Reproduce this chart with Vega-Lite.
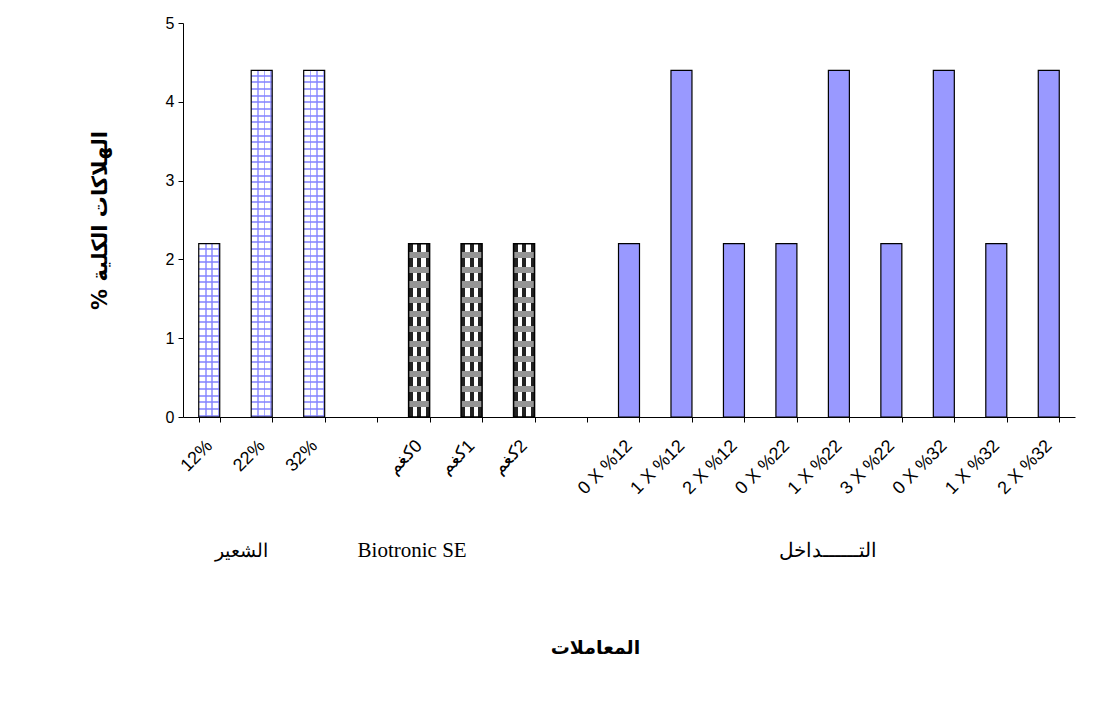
{
  "$schema": "https://vega.github.io/schema/vega-lite/v6.json",
  "width": 892,
  "height": 394,
  "autosize": {"type": "none"},
  "padding": {"left": 183, "top": 23, "right": 18, "bottom": 292},
  "background": "white",
  "config": {
    "view": {"stroke": null},
    "axis": {"labelFont": "Liberation Sans", "titleFont": "DejaVu Sans", "domainColor": "black", "tickColor": "black", "labelColor": "black", "titleColor": "black", "grid": false}
  },
  "datasets": {
    "bars": [
      {"cat": "12%", "v": 2.2, "grp": "barley"},
      {"cat": "22%", "v": 4.4, "grp": "barley"},
      {"cat": "32%", "v": 4.4, "grp": "barley"},
      {"cat": "\u200f0كغم", "v": 2.2, "grp": "bio"},
      {"cat": "\u200f1كغم", "v": 2.2, "grp": "bio"},
      {"cat": "\u200f2كغم", "v": 2.2, "grp": "bio"},
      {"cat": "0 X %12", "v": 2.2, "grp": "int"},
      {"cat": "1 X %12", "v": 4.4, "grp": "int"},
      {"cat": "2 X %12", "v": 2.2, "grp": "int"},
      {"cat": "0 X %22", "v": 2.2, "grp": "int"},
      {"cat": "1 X %22", "v": 4.4, "grp": "int"},
      {"cat": "3 X %22", "v": 2.2, "grp": "int"},
      {"cat": "0 X %32", "v": 4.4, "grp": "int"},
      {"cat": "1 X %32", "v": 2.2, "grp": "int"},
      {"cat": "2 X %32", "v": 4.4, "grp": "int"}
    ],
    "groups": [
      {"cat": "22%", "label": "الشعير", "grp": "barley"},
      {"cat": "\u200f0كغم", "label": "Biotronic SE", "grp": "bio"},
      {"cat": "1 X %22", "label": "التــــــداخل", "grp": "int"}
    ]
  },
  "layer": [
    {
      "data": {"name": "bars"},
      "transform": [{"filter": "datum.grp == 'int'"}],
      "mark": {"type": "bar", "fill": "#9999ff", "stroke": "black", "strokeWidth": 1.2},
      "encoding": {
        "x": {
          "field": "cat", "type": "nominal", "sort": null,
          "scale": {"domain": ["12%", "22%", "32%", " ", "\u200f0كغم", "\u200f1كغم", "\u200f2كغم", "  ", "0 X %12", "1 X %12", "2 X %12", "0 X %22", "1 X %22", "3 X %22", "0 X %32", "1 X %32", "2 X %32"], "paddingInner": 0.6, "paddingOuter": 0.3},
          "axis": {"title": "المعاملات", "titleFontSize": 19, "titleFontWeight": "bold", "titleX": 412, "titleY": 230, "titleBaseline": "middle", "labelAngle": -45, "labelFontSize": 18, "labelBaseline": "middle", "labelAlign": "right", "tickBand": "extent", "tickSize": 5, "labelPadding": 21}
        },
        "y": {
          "field": "v", "type": "quantitative",
          "scale": {"domain": [0, 5]},
          "axis": {"values": [0, 1, 2, 3, 4, 5], "format": "d", "title": "الهلاكات الكلية %\u200f", "titleFontSize": 21, "titleFontWeight": "bold", "titleX": -83, "titleY": 197, "titleAngle": -90, "titleBaseline": "middle", "titleAlign": "center", "labelFontSize": 16, "tickSize": 5, "labelPadding": 4}
        }
      }
    },
    {
      "data": {"name": "bars"},
      "transform": [{"filter": "datum.grp == 'barley'"}],
      "encoding": {"x": {"field": "cat", "type": "nominal", "sort": null}, "y": {"field": "v", "type": "quantitative"}},
      "mark": {"type": "bar", "fill": {"gradient": "linear", "x1": 0, "y1": 0, "x2": 1, "y2": 0, "stops": [
        {"offset": 0, "color": "#ffffff"}, {"offset": 0.29, "color": "#ffffff"}, {"offset": 0.29, "color": "#a8a8ff"}, {"offset": 0.37, "color": "#a8a8ff"}, {"offset": 0.37, "color": "#ffffff"},
        {"offset": 0.6, "color": "#ffffff"}, {"offset": 0.6, "color": "#a8a8ff"}, {"offset": 0.68, "color": "#a8a8ff"}, {"offset": 0.68, "color": "#ffffff"},
        {"offset": 0.9, "color": "#ffffff"}, {"offset": 0.9, "color": "#a8a8ff"}, {"offset": 0.98, "color": "#a8a8ff"}, {"offset": 0.98, "color": "#ffffff"}, {"offset": 1, "color": "#ffffff"}
      ]}}
    },
    {
      "data": {"name": "bars"},
      "transform": [{"filter": "datum.grp == 'barley' && datum.v < 3"}],
      "encoding": {"x": {"field": "cat", "type": "nominal", "sort": null}, "y": {"field": "v", "type": "quantitative"}},
      "mark": {"type": "bar", "stroke": "black", "strokeWidth": 1.2, "fill": {"gradient": "linear", "x1": 0, "y1": 0, "x2": 0, "y2": 1, "stops": [
        {"offset": 0.025, "color": "rgba(0,0,0,0)"}, {"offset": 0.025, "color": "rgba(130,130,255,0.75)"}, {"offset": 0.037, "color": "rgba(130,130,255,0.75)"}, {"offset": 0.037, "color": "rgba(0,0,0,0)"},
        {"offset": 0.0635, "color": "rgba(0,0,0,0)"}, {"offset": 0.0635, "color": "rgba(130,130,255,0.75)"}, {"offset": 0.0755, "color": "rgba(130,130,255,0.75)"}, {"offset": 0.0755, "color": "rgba(0,0,0,0)"},
        {"offset": 0.1019, "color": "rgba(0,0,0,0)"}, {"offset": 0.1019, "color": "rgba(130,130,255,0.75)"}, {"offset": 0.1139, "color": "rgba(130,130,255,0.75)"}, {"offset": 0.1139, "color": "rgba(0,0,0,0)"},
        {"offset": 0.1404, "color": "rgba(0,0,0,0)"}, {"offset": 0.1404, "color": "rgba(130,130,255,0.75)"}, {"offset": 0.1524, "color": "rgba(130,130,255,0.75)"}, {"offset": 0.1524, "color": "rgba(0,0,0,0)"},
        {"offset": 0.1788, "color": "rgba(0,0,0,0)"}, {"offset": 0.1788, "color": "rgba(130,130,255,0.75)"}, {"offset": 0.1908, "color": "rgba(130,130,255,0.75)"}, {"offset": 0.1908, "color": "rgba(0,0,0,0)"},
        {"offset": 0.2173, "color": "rgba(0,0,0,0)"}, {"offset": 0.2173, "color": "rgba(130,130,255,0.75)"}, {"offset": 0.2293, "color": "rgba(130,130,255,0.75)"}, {"offset": 0.2293, "color": "rgba(0,0,0,0)"},
        {"offset": 0.2558, "color": "rgba(0,0,0,0)"}, {"offset": 0.2558, "color": "rgba(130,130,255,0.75)"}, {"offset": 0.2678, "color": "rgba(130,130,255,0.75)"}, {"offset": 0.2678, "color": "rgba(0,0,0,0)"},
        {"offset": 0.2942, "color": "rgba(0,0,0,0)"}, {"offset": 0.2942, "color": "rgba(130,130,255,0.75)"}, {"offset": 0.3062, "color": "rgba(130,130,255,0.75)"}, {"offset": 0.3062, "color": "rgba(0,0,0,0)"},
        {"offset": 0.3327, "color": "rgba(0,0,0,0)"}, {"offset": 0.3327, "color": "rgba(130,130,255,0.75)"}, {"offset": 0.3447, "color": "rgba(130,130,255,0.75)"}, {"offset": 0.3447, "color": "rgba(0,0,0,0)"},
        {"offset": 0.3712, "color": "rgba(0,0,0,0)"}, {"offset": 0.3712, "color": "rgba(130,130,255,0.75)"}, {"offset": 0.3832, "color": "rgba(130,130,255,0.75)"}, {"offset": 0.3832, "color": "rgba(0,0,0,0)"},
        {"offset": 0.4096, "color": "rgba(0,0,0,0)"}, {"offset": 0.4096, "color": "rgba(130,130,255,0.75)"}, {"offset": 0.4216, "color": "rgba(130,130,255,0.75)"}, {"offset": 0.4216, "color": "rgba(0,0,0,0)"},
        {"offset": 0.4481, "color": "rgba(0,0,0,0)"}, {"offset": 0.4481, "color": "rgba(130,130,255,0.75)"}, {"offset": 0.4601, "color": "rgba(130,130,255,0.75)"}, {"offset": 0.4601, "color": "rgba(0,0,0,0)"},
        {"offset": 0.4865, "color": "rgba(0,0,0,0)"}, {"offset": 0.4865, "color": "rgba(130,130,255,0.75)"}, {"offset": 0.4985, "color": "rgba(130,130,255,0.75)"}, {"offset": 0.4985, "color": "rgba(0,0,0,0)"},
        {"offset": 0.525, "color": "rgba(0,0,0,0)"}, {"offset": 0.525, "color": "rgba(130,130,255,0.75)"}, {"offset": 0.537, "color": "rgba(130,130,255,0.75)"}, {"offset": 0.537, "color": "rgba(0,0,0,0)"},
        {"offset": 0.5635, "color": "rgba(0,0,0,0)"}, {"offset": 0.5635, "color": "rgba(130,130,255,0.75)"}, {"offset": 0.5755, "color": "rgba(130,130,255,0.75)"}, {"offset": 0.5755, "color": "rgba(0,0,0,0)"},
        {"offset": 0.6019, "color": "rgba(0,0,0,0)"}, {"offset": 0.6019, "color": "rgba(130,130,255,0.75)"}, {"offset": 0.6139, "color": "rgba(130,130,255,0.75)"}, {"offset": 0.6139, "color": "rgba(0,0,0,0)"},
        {"offset": 0.6404, "color": "rgba(0,0,0,0)"}, {"offset": 0.6404, "color": "rgba(130,130,255,0.75)"}, {"offset": 0.6524, "color": "rgba(130,130,255,0.75)"}, {"offset": 0.6524, "color": "rgba(0,0,0,0)"},
        {"offset": 0.6788, "color": "rgba(0,0,0,0)"}, {"offset": 0.6788, "color": "rgba(130,130,255,0.75)"}, {"offset": 0.6908, "color": "rgba(130,130,255,0.75)"}, {"offset": 0.6908, "color": "rgba(0,0,0,0)"},
        {"offset": 0.7173, "color": "rgba(0,0,0,0)"}, {"offset": 0.7173, "color": "rgba(130,130,255,0.75)"}, {"offset": 0.7293, "color": "rgba(130,130,255,0.75)"}, {"offset": 0.7293, "color": "rgba(0,0,0,0)"},
        {"offset": 0.7558, "color": "rgba(0,0,0,0)"}, {"offset": 0.7558, "color": "rgba(130,130,255,0.75)"}, {"offset": 0.7678, "color": "rgba(130,130,255,0.75)"}, {"offset": 0.7678, "color": "rgba(0,0,0,0)"},
        {"offset": 0.7942, "color": "rgba(0,0,0,0)"}, {"offset": 0.7942, "color": "rgba(130,130,255,0.75)"}, {"offset": 0.8062, "color": "rgba(130,130,255,0.75)"}, {"offset": 0.8062, "color": "rgba(0,0,0,0)"},
        {"offset": 0.8327, "color": "rgba(0,0,0,0)"}, {"offset": 0.8327, "color": "rgba(130,130,255,0.75)"}, {"offset": 0.8447, "color": "rgba(130,130,255,0.75)"}, {"offset": 0.8447, "color": "rgba(0,0,0,0)"},
        {"offset": 0.8712, "color": "rgba(0,0,0,0)"}, {"offset": 0.8712, "color": "rgba(130,130,255,0.75)"}, {"offset": 0.8832, "color": "rgba(130,130,255,0.75)"}, {"offset": 0.8832, "color": "rgba(0,0,0,0)"},
        {"offset": 0.9096, "color": "rgba(0,0,0,0)"}, {"offset": 0.9096, "color": "rgba(130,130,255,0.75)"}, {"offset": 0.9216, "color": "rgba(130,130,255,0.75)"}, {"offset": 0.9216, "color": "rgba(0,0,0,0)"},
        {"offset": 0.9481, "color": "rgba(0,0,0,0)"}, {"offset": 0.9481, "color": "rgba(130,130,255,0.75)"}, {"offset": 0.9601, "color": "rgba(130,130,255,0.75)"}, {"offset": 0.9601, "color": "rgba(0,0,0,0)"},
        {"offset": 0.9865, "color": "rgba(0,0,0,0)"}, {"offset": 0.9865, "color": "rgba(130,130,255,0.75)"}, {"offset": 0.9985, "color": "rgba(130,130,255,0.75)"}, {"offset": 0.9985, "color": "rgba(0,0,0,0)"}
      ]}}
    },
    {
      "data": {"name": "bars"},
      "transform": [{"filter": "datum.grp == 'barley' && datum.v > 3"}],
      "encoding": {"x": {"field": "cat", "type": "nominal", "sort": null}, "y": {"field": "v", "type": "quantitative"}},
      "mark": {"type": "bar", "stroke": "black", "strokeWidth": 1.2, "fill": {"gradient": "linear", "x1": 0, "y1": 0, "x2": 0, "y2": 1, "stops": [
        {"offset": 0.0125, "color": "rgba(0,0,0,0)"}, {"offset": 0.0125, "color": "rgba(130,130,255,0.75)"}, {"offset": 0.0185, "color": "rgba(130,130,255,0.75)"}, {"offset": 0.0185, "color": "rgba(0,0,0,0)"},
        {"offset": 0.0317, "color": "rgba(0,0,0,0)"}, {"offset": 0.0317, "color": "rgba(130,130,255,0.75)"}, {"offset": 0.0377, "color": "rgba(130,130,255,0.75)"}, {"offset": 0.0377, "color": "rgba(0,0,0,0)"},
        {"offset": 0.051, "color": "rgba(0,0,0,0)"}, {"offset": 0.051, "color": "rgba(130,130,255,0.75)"}, {"offset": 0.057, "color": "rgba(130,130,255,0.75)"}, {"offset": 0.057, "color": "rgba(0,0,0,0)"},
        {"offset": 0.0702, "color": "rgba(0,0,0,0)"}, {"offset": 0.0702, "color": "rgba(130,130,255,0.75)"}, {"offset": 0.0762, "color": "rgba(130,130,255,0.75)"}, {"offset": 0.0762, "color": "rgba(0,0,0,0)"},
        {"offset": 0.0894, "color": "rgba(0,0,0,0)"}, {"offset": 0.0894, "color": "rgba(130,130,255,0.75)"}, {"offset": 0.0954, "color": "rgba(130,130,255,0.75)"}, {"offset": 0.0954, "color": "rgba(0,0,0,0)"},
        {"offset": 0.1087, "color": "rgba(0,0,0,0)"}, {"offset": 0.1087, "color": "rgba(130,130,255,0.75)"}, {"offset": 0.1147, "color": "rgba(130,130,255,0.75)"}, {"offset": 0.1147, "color": "rgba(0,0,0,0)"},
        {"offset": 0.1279, "color": "rgba(0,0,0,0)"}, {"offset": 0.1279, "color": "rgba(130,130,255,0.75)"}, {"offset": 0.1339, "color": "rgba(130,130,255,0.75)"}, {"offset": 0.1339, "color": "rgba(0,0,0,0)"},
        {"offset": 0.1471, "color": "rgba(0,0,0,0)"}, {"offset": 0.1471, "color": "rgba(130,130,255,0.75)"}, {"offset": 0.1531, "color": "rgba(130,130,255,0.75)"}, {"offset": 0.1531, "color": "rgba(0,0,0,0)"},
        {"offset": 0.1663, "color": "rgba(0,0,0,0)"}, {"offset": 0.1663, "color": "rgba(130,130,255,0.75)"}, {"offset": 0.1723, "color": "rgba(130,130,255,0.75)"}, {"offset": 0.1723, "color": "rgba(0,0,0,0)"},
        {"offset": 0.1856, "color": "rgba(0,0,0,0)"}, {"offset": 0.1856, "color": "rgba(130,130,255,0.75)"}, {"offset": 0.1916, "color": "rgba(130,130,255,0.75)"}, {"offset": 0.1916, "color": "rgba(0,0,0,0)"},
        {"offset": 0.2048, "color": "rgba(0,0,0,0)"}, {"offset": 0.2048, "color": "rgba(130,130,255,0.75)"}, {"offset": 0.2108, "color": "rgba(130,130,255,0.75)"}, {"offset": 0.2108, "color": "rgba(0,0,0,0)"},
        {"offset": 0.224, "color": "rgba(0,0,0,0)"}, {"offset": 0.224, "color": "rgba(130,130,255,0.75)"}, {"offset": 0.23, "color": "rgba(130,130,255,0.75)"}, {"offset": 0.23, "color": "rgba(0,0,0,0)"},
        {"offset": 0.2433, "color": "rgba(0,0,0,0)"}, {"offset": 0.2433, "color": "rgba(130,130,255,0.75)"}, {"offset": 0.2493, "color": "rgba(130,130,255,0.75)"}, {"offset": 0.2493, "color": "rgba(0,0,0,0)"},
        {"offset": 0.2625, "color": "rgba(0,0,0,0)"}, {"offset": 0.2625, "color": "rgba(130,130,255,0.75)"}, {"offset": 0.2685, "color": "rgba(130,130,255,0.75)"}, {"offset": 0.2685, "color": "rgba(0,0,0,0)"},
        {"offset": 0.2817, "color": "rgba(0,0,0,0)"}, {"offset": 0.2817, "color": "rgba(130,130,255,0.75)"}, {"offset": 0.2877, "color": "rgba(130,130,255,0.75)"}, {"offset": 0.2877, "color": "rgba(0,0,0,0)"},
        {"offset": 0.301, "color": "rgba(0,0,0,0)"}, {"offset": 0.301, "color": "rgba(130,130,255,0.75)"}, {"offset": 0.307, "color": "rgba(130,130,255,0.75)"}, {"offset": 0.307, "color": "rgba(0,0,0,0)"},
        {"offset": 0.3202, "color": "rgba(0,0,0,0)"}, {"offset": 0.3202, "color": "rgba(130,130,255,0.75)"}, {"offset": 0.3262, "color": "rgba(130,130,255,0.75)"}, {"offset": 0.3262, "color": "rgba(0,0,0,0)"},
        {"offset": 0.3394, "color": "rgba(0,0,0,0)"}, {"offset": 0.3394, "color": "rgba(130,130,255,0.75)"}, {"offset": 0.3454, "color": "rgba(130,130,255,0.75)"}, {"offset": 0.3454, "color": "rgba(0,0,0,0)"},
        {"offset": 0.3587, "color": "rgba(0,0,0,0)"}, {"offset": 0.3587, "color": "rgba(130,130,255,0.75)"}, {"offset": 0.3647, "color": "rgba(130,130,255,0.75)"}, {"offset": 0.3647, "color": "rgba(0,0,0,0)"},
        {"offset": 0.3779, "color": "rgba(0,0,0,0)"}, {"offset": 0.3779, "color": "rgba(130,130,255,0.75)"}, {"offset": 0.3839, "color": "rgba(130,130,255,0.75)"}, {"offset": 0.3839, "color": "rgba(0,0,0,0)"},
        {"offset": 0.3971, "color": "rgba(0,0,0,0)"}, {"offset": 0.3971, "color": "rgba(130,130,255,0.75)"}, {"offset": 0.4031, "color": "rgba(130,130,255,0.75)"}, {"offset": 0.4031, "color": "rgba(0,0,0,0)"},
        {"offset": 0.4163, "color": "rgba(0,0,0,0)"}, {"offset": 0.4163, "color": "rgba(130,130,255,0.75)"}, {"offset": 0.4223, "color": "rgba(130,130,255,0.75)"}, {"offset": 0.4223, "color": "rgba(0,0,0,0)"},
        {"offset": 0.4356, "color": "rgba(0,0,0,0)"}, {"offset": 0.4356, "color": "rgba(130,130,255,0.75)"}, {"offset": 0.4416, "color": "rgba(130,130,255,0.75)"}, {"offset": 0.4416, "color": "rgba(0,0,0,0)"},
        {"offset": 0.4548, "color": "rgba(0,0,0,0)"}, {"offset": 0.4548, "color": "rgba(130,130,255,0.75)"}, {"offset": 0.4608, "color": "rgba(130,130,255,0.75)"}, {"offset": 0.4608, "color": "rgba(0,0,0,0)"},
        {"offset": 0.474, "color": "rgba(0,0,0,0)"}, {"offset": 0.474, "color": "rgba(130,130,255,0.75)"}, {"offset": 0.48, "color": "rgba(130,130,255,0.75)"}, {"offset": 0.48, "color": "rgba(0,0,0,0)"},
        {"offset": 0.4933, "color": "rgba(0,0,0,0)"}, {"offset": 0.4933, "color": "rgba(130,130,255,0.75)"}, {"offset": 0.4993, "color": "rgba(130,130,255,0.75)"}, {"offset": 0.4993, "color": "rgba(0,0,0,0)"},
        {"offset": 0.5125, "color": "rgba(0,0,0,0)"}, {"offset": 0.5125, "color": "rgba(130,130,255,0.75)"}, {"offset": 0.5185, "color": "rgba(130,130,255,0.75)"}, {"offset": 0.5185, "color": "rgba(0,0,0,0)"},
        {"offset": 0.5317, "color": "rgba(0,0,0,0)"}, {"offset": 0.5317, "color": "rgba(130,130,255,0.75)"}, {"offset": 0.5377, "color": "rgba(130,130,255,0.75)"}, {"offset": 0.5377, "color": "rgba(0,0,0,0)"},
        {"offset": 0.551, "color": "rgba(0,0,0,0)"}, {"offset": 0.551, "color": "rgba(130,130,255,0.75)"}, {"offset": 0.557, "color": "rgba(130,130,255,0.75)"}, {"offset": 0.557, "color": "rgba(0,0,0,0)"},
        {"offset": 0.5702, "color": "rgba(0,0,0,0)"}, {"offset": 0.5702, "color": "rgba(130,130,255,0.75)"}, {"offset": 0.5762, "color": "rgba(130,130,255,0.75)"}, {"offset": 0.5762, "color": "rgba(0,0,0,0)"},
        {"offset": 0.5894, "color": "rgba(0,0,0,0)"}, {"offset": 0.5894, "color": "rgba(130,130,255,0.75)"}, {"offset": 0.5954, "color": "rgba(130,130,255,0.75)"}, {"offset": 0.5954, "color": "rgba(0,0,0,0)"},
        {"offset": 0.6087, "color": "rgba(0,0,0,0)"}, {"offset": 0.6087, "color": "rgba(130,130,255,0.75)"}, {"offset": 0.6147, "color": "rgba(130,130,255,0.75)"}, {"offset": 0.6147, "color": "rgba(0,0,0,0)"},
        {"offset": 0.6279, "color": "rgba(0,0,0,0)"}, {"offset": 0.6279, "color": "rgba(130,130,255,0.75)"}, {"offset": 0.6339, "color": "rgba(130,130,255,0.75)"}, {"offset": 0.6339, "color": "rgba(0,0,0,0)"},
        {"offset": 0.6471, "color": "rgba(0,0,0,0)"}, {"offset": 0.6471, "color": "rgba(130,130,255,0.75)"}, {"offset": 0.6531, "color": "rgba(130,130,255,0.75)"}, {"offset": 0.6531, "color": "rgba(0,0,0,0)"},
        {"offset": 0.6663, "color": "rgba(0,0,0,0)"}, {"offset": 0.6663, "color": "rgba(130,130,255,0.75)"}, {"offset": 0.6723, "color": "rgba(130,130,255,0.75)"}, {"offset": 0.6723, "color": "rgba(0,0,0,0)"},
        {"offset": 0.6856, "color": "rgba(0,0,0,0)"}, {"offset": 0.6856, "color": "rgba(130,130,255,0.75)"}, {"offset": 0.6916, "color": "rgba(130,130,255,0.75)"}, {"offset": 0.6916, "color": "rgba(0,0,0,0)"},
        {"offset": 0.7048, "color": "rgba(0,0,0,0)"}, {"offset": 0.7048, "color": "rgba(130,130,255,0.75)"}, {"offset": 0.7108, "color": "rgba(130,130,255,0.75)"}, {"offset": 0.7108, "color": "rgba(0,0,0,0)"},
        {"offset": 0.724, "color": "rgba(0,0,0,0)"}, {"offset": 0.724, "color": "rgba(130,130,255,0.75)"}, {"offset": 0.73, "color": "rgba(130,130,255,0.75)"}, {"offset": 0.73, "color": "rgba(0,0,0,0)"},
        {"offset": 0.7433, "color": "rgba(0,0,0,0)"}, {"offset": 0.7433, "color": "rgba(130,130,255,0.75)"}, {"offset": 0.7493, "color": "rgba(130,130,255,0.75)"}, {"offset": 0.7493, "color": "rgba(0,0,0,0)"},
        {"offset": 0.7625, "color": "rgba(0,0,0,0)"}, {"offset": 0.7625, "color": "rgba(130,130,255,0.75)"}, {"offset": 0.7685, "color": "rgba(130,130,255,0.75)"}, {"offset": 0.7685, "color": "rgba(0,0,0,0)"},
        {"offset": 0.7817, "color": "rgba(0,0,0,0)"}, {"offset": 0.7817, "color": "rgba(130,130,255,0.75)"}, {"offset": 0.7877, "color": "rgba(130,130,255,0.75)"}, {"offset": 0.7877, "color": "rgba(0,0,0,0)"},
        {"offset": 0.801, "color": "rgba(0,0,0,0)"}, {"offset": 0.801, "color": "rgba(130,130,255,0.75)"}, {"offset": 0.807, "color": "rgba(130,130,255,0.75)"}, {"offset": 0.807, "color": "rgba(0,0,0,0)"},
        {"offset": 0.8202, "color": "rgba(0,0,0,0)"}, {"offset": 0.8202, "color": "rgba(130,130,255,0.75)"}, {"offset": 0.8262, "color": "rgba(130,130,255,0.75)"}, {"offset": 0.8262, "color": "rgba(0,0,0,0)"},
        {"offset": 0.8394, "color": "rgba(0,0,0,0)"}, {"offset": 0.8394, "color": "rgba(130,130,255,0.75)"}, {"offset": 0.8454, "color": "rgba(130,130,255,0.75)"}, {"offset": 0.8454, "color": "rgba(0,0,0,0)"},
        {"offset": 0.8587, "color": "rgba(0,0,0,0)"}, {"offset": 0.8587, "color": "rgba(130,130,255,0.75)"}, {"offset": 0.8647, "color": "rgba(130,130,255,0.75)"}, {"offset": 0.8647, "color": "rgba(0,0,0,0)"},
        {"offset": 0.8779, "color": "rgba(0,0,0,0)"}, {"offset": 0.8779, "color": "rgba(130,130,255,0.75)"}, {"offset": 0.8839, "color": "rgba(130,130,255,0.75)"}, {"offset": 0.8839, "color": "rgba(0,0,0,0)"},
        {"offset": 0.8971, "color": "rgba(0,0,0,0)"}, {"offset": 0.8971, "color": "rgba(130,130,255,0.75)"}, {"offset": 0.9031, "color": "rgba(130,130,255,0.75)"}, {"offset": 0.9031, "color": "rgba(0,0,0,0)"},
        {"offset": 0.9163, "color": "rgba(0,0,0,0)"}, {"offset": 0.9163, "color": "rgba(130,130,255,0.75)"}, {"offset": 0.9223, "color": "rgba(130,130,255,0.75)"}, {"offset": 0.9223, "color": "rgba(0,0,0,0)"},
        {"offset": 0.9356, "color": "rgba(0,0,0,0)"}, {"offset": 0.9356, "color": "rgba(130,130,255,0.75)"}, {"offset": 0.9416, "color": "rgba(130,130,255,0.75)"}, {"offset": 0.9416, "color": "rgba(0,0,0,0)"},
        {"offset": 0.9548, "color": "rgba(0,0,0,0)"}, {"offset": 0.9548, "color": "rgba(130,130,255,0.75)"}, {"offset": 0.9608, "color": "rgba(130,130,255,0.75)"}, {"offset": 0.9608, "color": "rgba(0,0,0,0)"},
        {"offset": 0.974, "color": "rgba(0,0,0,0)"}, {"offset": 0.974, "color": "rgba(130,130,255,0.75)"}, {"offset": 0.98, "color": "rgba(130,130,255,0.75)"}, {"offset": 0.98, "color": "rgba(0,0,0,0)"},
        {"offset": 0.9933, "color": "rgba(0,0,0,0)"}, {"offset": 0.9933, "color": "rgba(130,130,255,0.75)"}, {"offset": 0.9993, "color": "rgba(130,130,255,0.75)"}, {"offset": 0.9993, "color": "rgba(0,0,0,0)"}
      ]}}
    },
    {
      "data": {"name": "bars"},
      "transform": [{"filter": "datum.grp == 'bio'"}],
      "encoding": {"x": {"field": "cat", "type": "nominal", "sort": null}, "y": {"field": "v", "type": "quantitative"}},
      "mark": {"type": "bar", "fill": {"gradient": "linear", "x1": 0, "y1": 0, "x2": 1, "y2": 0, "stops": [
        {"offset": 0, "color": "#222222"}, {"offset": 0.2, "color": "#222222"}, {"offset": 0.2, "color": "#ffffff"}, {"offset": 0.42, "color": "#ffffff"},
        {"offset": 0.42, "color": "#222222"}, {"offset": 0.61, "color": "#222222"}, {"offset": 0.61, "color": "#ffffff"}, {"offset": 0.82, "color": "#ffffff"},
        {"offset": 0.82, "color": "#222222"}, {"offset": 1, "color": "#222222"}
      ]}}
    },
    {
      "data": {"name": "bars"},
      "transform": [{"filter": "datum.grp == 'bio'"}],
      "encoding": {"x": {"field": "cat", "type": "nominal", "sort": null}, "y": {"field": "v", "type": "quantitative"}},
      "mark": {"type": "bar", "stroke": "black", "strokeWidth": 1.5, "fill": {"gradient": "linear", "x1": 0, "y1": 0, "x2": 0, "y2": 1, "stops": [
        {"offset": 0.046, "color": "rgba(0,0,0,0)"}, {"offset": 0.046, "color": "#959595"}, {"offset": 0.081, "color": "#959595"}, {"offset": 0.081, "color": "rgba(0,0,0,0)"},
        {"offset": 0.132, "color": "rgba(0,0,0,0)"}, {"offset": 0.132, "color": "#959595"}, {"offset": 0.167, "color": "#959595"}, {"offset": 0.167, "color": "rgba(0,0,0,0)"},
        {"offset": 0.218, "color": "rgba(0,0,0,0)"}, {"offset": 0.218, "color": "#959595"}, {"offset": 0.253, "color": "#959595"}, {"offset": 0.253, "color": "rgba(0,0,0,0)"},
        {"offset": 0.305, "color": "rgba(0,0,0,0)"}, {"offset": 0.305, "color": "#959595"}, {"offset": 0.34, "color": "#959595"}, {"offset": 0.34, "color": "rgba(0,0,0,0)"},
        {"offset": 0.391, "color": "rgba(0,0,0,0)"}, {"offset": 0.391, "color": "#959595"}, {"offset": 0.426, "color": "#959595"}, {"offset": 0.426, "color": "rgba(0,0,0,0)"},
        {"offset": 0.477, "color": "rgba(0,0,0,0)"}, {"offset": 0.477, "color": "#959595"}, {"offset": 0.512, "color": "#959595"}, {"offset": 0.512, "color": "rgba(0,0,0,0)"},
        {"offset": 0.563, "color": "rgba(0,0,0,0)"}, {"offset": 0.563, "color": "#959595"}, {"offset": 0.598, "color": "#959595"}, {"offset": 0.598, "color": "rgba(0,0,0,0)"},
        {"offset": 0.649, "color": "rgba(0,0,0,0)"}, {"offset": 0.649, "color": "#959595"}, {"offset": 0.684, "color": "#959595"}, {"offset": 0.684, "color": "rgba(0,0,0,0)"},
        {"offset": 0.736, "color": "rgba(0,0,0,0)"}, {"offset": 0.736, "color": "#959595"}, {"offset": 0.771, "color": "#959595"}, {"offset": 0.771, "color": "rgba(0,0,0,0)"},
        {"offset": 0.822, "color": "rgba(0,0,0,0)"}, {"offset": 0.822, "color": "#959595"}, {"offset": 0.857, "color": "#959595"}, {"offset": 0.857, "color": "rgba(0,0,0,0)"},
        {"offset": 0.908, "color": "rgba(0,0,0,0)"}, {"offset": 0.908, "color": "#959595"}, {"offset": 0.943, "color": "#959595"}, {"offset": 0.943, "color": "rgba(0,0,0,0)"}
      ]}}
    },
    {
      "data": {"name": "groups"},
      "transform": [{"filter": "datum.grp == 'barley'"}],
      "mark": {"type": "text", "clip": false, "font": "Liberation Serif", "fontSize": 19, "fill": "black", "baseline": "middle", "align": "center", "dx": -20},
      "encoding": {"x": {"field": "cat", "type": "nominal", "sort": null}, "y": {"datum": -1.7, "type": "quantitative"}, "text": {"field": "label", "type": "nominal"}}
    },
    {
      "data": {"name": "groups"},
      "transform": [{"filter": "datum.grp == 'bio'"}],
      "mark": {"type": "text", "clip": false, "font": "Liberation Serif", "fontSize": 21, "fill": "black", "baseline": "middle", "align": "center", "dx": -7},
      "encoding": {"x": {"field": "cat", "type": "nominal", "sort": null}, "y": {"datum": -1.7, "type": "quantitative"}, "text": {"field": "label", "type": "nominal"}}
    },
    {
      "data": {"name": "groups"},
      "transform": [{"filter": "datum.grp == 'int'"}],
      "mark": {"type": "text", "clip": false, "font": "Liberation Serif", "fontSize": 20, "fill": "black", "baseline": "middle", "align": "center", "dx": -11},
      "encoding": {"x": {"field": "cat", "type": "nominal", "sort": null}, "y": {"datum": -1.7, "type": "quantitative"}, "text": {"field": "label", "type": "nominal"}}
    }
  ]
}
